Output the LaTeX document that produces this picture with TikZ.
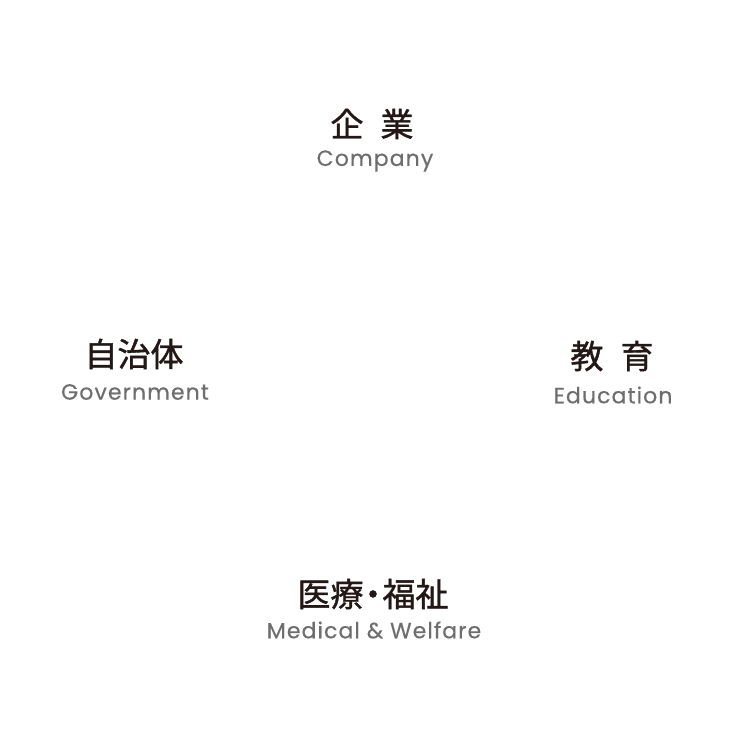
\documentclass[tikz,border=0pt]{standalone}
\usepackage{fontspec}
\newfontfamily\cjk{Noto Sans CJK JP}[FakeBold=1.2]
\newfontfamily\en{Poppins}[LetterSpace=5,FakeBold=0.4]
\definecolor{jpink}{HTML}{231815}
\definecolor{engray}{HTML}{6E6E6E}
\begin{document}
\begin{tikzpicture}[x=1pt,y=1pt,
  jp/.style={inner sep=0pt,text=jpink,font=\cjk\fontsize{33}{33}\selectfont},
  enl/.style={inner sep=0pt,text=engray,font=\en\fontsize{22}{22}\selectfont}]
\useasboundingbox[fill=white] (0,0) rectangle (750,748);
\node[jp] (company) at (372,624) {企\hspace{17pt}業};
\node[enl] (companyen) at (375,587) {Company};
\node[jp] (gov) at (134,394) {自治体};
\node[enl] (goven) at (135,356) {Government};
\node[jp] (edu) at (612,392) {教\hspace{17pt}育};
\node[enl] (eduen) at (613,353) {Education};
\node[jp] (med) at (373,154) {医療\hspace{-7pt}・\hspace{-7pt}福祉};
\node[enl] (meden) at (374,118) {Medical \& Welfare};
\end{tikzpicture}
\end{document}
